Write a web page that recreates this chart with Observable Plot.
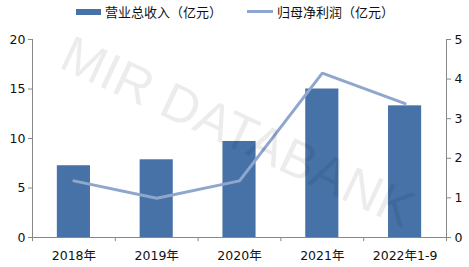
<!DOCTYPE html>
<html><head><meta charset="utf-8">
<script src="https://cdn.jsdelivr.net/npm/d3@7"></script>
<script src="https://cdn.jsdelivr.net/npm/@observablehq/plot@0.6"></script>
<style>
body{margin:0;background:#fff;font-family:"DejaVu Sans","Noto Sans CJK SC",sans-serif;}
#legend{height:22px;position:relative;font-size:13px;color:#111;}
.item{position:absolute;top:2px;display:flex;align-items:center;white-space:nowrap;}
.sw{display:inline-block;margin-right:4px;}
</style></head>
<body>
<div id="legend"></div>
<div id="chart"></div>
<script>
const categories = ["2018年", "2019年", "2020年", "2021年", "2022年1-9"];
const revenue = [7.25, 7.85, 9.7, 15.0, 13.3];      // 营业总收入（亿元）
const profit = [1.43, 0.99, 1.43, 4.15, 3.38];      // 归母净利润（亿元）
const leftTicks = [0, 5, 10, 15, 20];
const rightTicks = [0, 1, 2, 3, 4, 5];
const seriesNames = ["营业总收入（亿元）", "归母净利润（亿元）"];
const watermark = "MIR DATABANK";

const barColor = "#4672a8";
const lineColor = "#8fa7cd";
const ratio = 20 / 5;

const rows = categories.map((c, i) => ({c, i, rev: revenue[i], prof: profit[i]}));

// legend
const lg = document.getElementById("legend");
lg.innerHTML = `
<div class="item" style="left:76px"><span class="sw" style="width:25px;height:6px;background:${barColor}"></span>${seriesNames[0]}</div>
<div class="item" style="left:247px"><span class="sw" style="width:26px;height:3px;background:${lineColor}"></span>${seriesNames[1]}</div>`;

const chart = Plot.plot({
  width: 469,
  height: 245,
  marginTop: 17,
  marginBottom: 30,
  marginLeft: 32,
  marginRight: 23,
  style: {fontFamily: "DejaVu Sans, Noto Sans CJK SC, sans-serif", fontSize: "12px", color: "#111", background: "#fff"},
  x: {type: "linear", domain: [0, categories.length]},
  y: {domain: [0, 20]},
  marks: [
    Plot.rect(rows, {x1: d => d.i + 0.3, x2: d => d.i + 0.7, y1: 0, y2: "rev", fill: barColor}),
    Plot.line(rows, {x: d => d.i + 0.5, y: d => d.prof * ratio, stroke: lineColor, strokeWidth: 3, strokeLinejoin: "miter"}),
    Plot.ruleX([0, categories.length], {y1: 0, y2: 20, stroke: "#888"}),
    Plot.ruleY([0], {stroke: "#888"}),
    Plot.ruleX(d3.range(categories.length + 1), {y1: 0, y2: -0.42, stroke: "#888", clip: false}),
    Plot.axisY({anchor: "left", ticks: leftTicks, tickSize: 4, tickPadding: 3, stroke: "#888", label: null, fontSize: 12.5, fill: "#111"}),
    Plot.axisY({anchor: "right", ticks: rightTicks.map(v => v * ratio), tickFormat: v => String(v / ratio), tickSize: 4, tickPadding: 4, stroke: "#888", label: null, fontSize: 12.5, fill: "#111"}),
    Plot.axisX({ticks: categories.map((c, i) => i + 0.5), tickFormat: v => categories[Math.round(v - 0.5)], tickSize: 0, tickPadding: 14, label: null, fontSize: 12.5, fill: "#111"}),
    Plot.text([watermark], {frameAnchor: "middle", dx: -2, dy: -6, rotate: 25, fontSize: 52, fill: "#000", fillOpacity: 0.075, fontFamily: "Liberation Sans, sans-serif"})
  ]
});
document.getElementById("chart").appendChild(chart);
</script>
</body></html>
